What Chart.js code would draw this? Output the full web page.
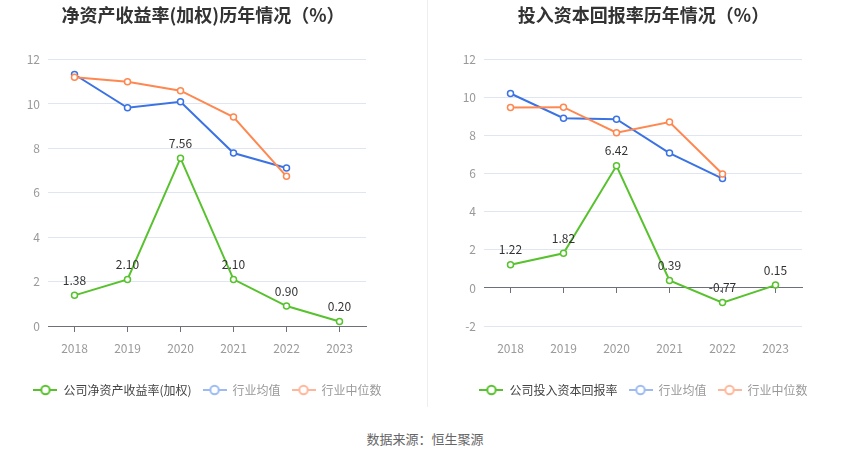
<!DOCTYPE html>
<html><head><meta charset="utf-8">
<script src="https://cdn.jsdelivr.net/npm/chart.js@4.4.1/dist/chart.umd.min.js"></script>
<style>
html,body{margin:0;padding:0;background:#fff;}
#wrap{position:relative;width:850px;height:459px;overflow:hidden;font-family:"Noto Sans CJK SC",sans-serif;}
.box{position:absolute;top:0;width:425px;height:410px;}
#divider{position:absolute;left:427px;top:0;width:1px;height:407px;background:#eeeeee;}
#source{position:absolute;left:0;width:850px;top:429px;text-align:center;font-size:13px;color:#666;}
</style></head>
<body>
<div id="wrap">
  <div class="box" style="left:0"><canvas id="c1" width="425" height="410"></canvas></div>
  <div class="box" style="left:425px"><canvas id="c2" width="425" height="410"></canvas></div>
  <div id="divider"></div>
  <div id="source">数据来源：恒生聚源</div>
</div>
<script>
const years = ['2018','2019','2020','2021','2022','2023'];

const roeTitle = '净资产收益率(加权)历年情况（%）';
const roeCompany = [1.38, 2.10, 7.56, 2.10, 0.90, 0.20];
const roeAvg = [11.33, 9.83, 10.10, 7.79, 7.12, null];
const roeMedian = [11.20, 11.00, 10.60, 9.41, 6.74, null];
const roeLabels = ['公司净资产收益率(加权)', '行业均值', '行业中位数'];
const roeTicks = {min: 0, max: 12, step: 2};

const roicTitle = '投入资本回报率历年情况（%）';
const roicCompany = [1.22, 1.82, 6.42, 0.39, -0.77, 0.15];
const roicAvg = [10.22, 8.92, 8.87, 7.09, 5.75, null];
const roicMedian = [9.48, 9.50, 8.16, 8.72, 5.99, null];
const roicLabels = ['公司投入资本回报率', '行业均值', '行业中位数'];
const roicTicks = {min: -2, max: 12, step: 2};

const GREEN = '#58c22e', BLUE = '#3b73e4', ORANGE = '#ff8750';
const LEG_COLORS = ['#58c22e', '#9dbbf2', '#ffb79b'];
const LEG_TEXT = ['#444', '#999', '#999'];
const FONT = '"Noto Sans CJK SC", "Noto Sans", sans-serif';

function icon(color){
  const c = document.createElement('canvas');
  c.width = 24; c.height = 12;
  const x = c.getContext('2d');
  x.strokeStyle = color; x.lineWidth = 2;
  x.beginPath(); x.moveTo(0,6); x.lineTo(24,6); x.stroke();
  x.beginPath(); x.arc(12,6,4.2,0,Math.PI*2); x.fillStyle='#fff'; x.fill(); x.stroke();
  return c;
}

const valueLabels = {
  id: 'valueLabels',
  afterDatasetsDraw(chart){
    const ctx = chart.ctx;
    const meta = chart.getDatasetMeta(0);
    const data = chart.data.datasets[0].data;
    ctx.save();
    ctx.font = '12px ' + FONT;
    ctx.fillStyle = '#333';
    ctx.textAlign = 'center';
    ctx.textBaseline = 'middle';
    meta.data.forEach((pt, i) => {
      if (data[i] == null) return;
      ctx.fillText(data[i].toFixed(2), pt.x, pt.y - 15);
    });
    ctx.restore();
  }
};

const shiftBlocks = {
  id: 'shiftBlocks',
  afterLayout(chart, args, opts){
    if (chart.titleBlock) { chart.titleBlock.left += opts.titleDx; chart.titleBlock.right += opts.titleDx; }
    if (chart.legend) { chart.legend.left += opts.legendDx; chart.legend.right += opts.legendDx; }
  }
};

function ds(label, data, color){
  return {
    label, data, borderColor: color, backgroundColor: '#fff',
    borderWidth: 2, pointRadius: 3, pointBorderWidth: 1.5,
    pointBackgroundColor: '#fff', pointBorderColor: color,
    tension: 0, spanGaps: false
  };
}

function make(id, title, labels, company, avg, median, t, yWidth, rightWidth, titleDx, legendDx){
  new Chart(document.getElementById(id), {
    type: 'line',
    data: {
      labels: years,
      datasets: [
        Object.assign(ds(labels[0], company, GREEN), {order: 0}),
        Object.assign(ds(labels[1], avg, BLUE), {order: 2}),
        Object.assign(ds(labels[2], median, ORANGE), {order: 1})
      ]
    },
    options: {
      responsive: false,
      animation: false,
      devicePixelRatio: 1,
      layout: {padding: {left: 0, right: 0, top: 0, bottom: 4}},
      plugins: {
        tooltip: {enabled: false},
        shiftBlocks: {titleDx, legendDx},
        title: {
          display: true, text: title, fullSize: false,
          color: '#333', font: {size: 18, weight: 'bold', family: FONT},
          padding: {top: 4, bottom: 34}
        },
        legend: {
          display: true, position: 'bottom', fullSize: true,
          labels: {
            usePointStyle: true, pointStyleWidth: 24, boxHeight: 12,
            padding: 11,
            font: {size: 12, family: FONT},
            generateLabels(chart){
              return chart.data.datasets.map((d, i) => ({
                text: d.label, datasetIndex: i, hidden: false,
                fillStyle: LEG_COLORS[i], strokeStyle: LEG_COLORS[i], lineWidth: 0,
                pointStyle: icon(LEG_COLORS[i]), fontColor: LEG_TEXT[i]
              }));
            }
          }
        }
      },
      scales: {
        x: {
          type: 'category', offset: true,
          grid: {display: false},
          border: {display: false},
          ticks: {color: '#999', padding: 7, font: {size: 12, family: FONT}},
          afterFit(s){ s.height = 47; }
        },
        x2: {
          type: 'category', axis: 'x', position: {y: 0}, offset: true,
          grid: {drawOnChartArea: false, drawTicks: true, tickLength: 5, offset: false, color: '#6e7079', lineWidth: 1},
          border: {display: true, color: '#6e7079', width: 1},
          ticks: {display: false}
        },
        y: {
          min: t.min, max: t.max,
          ticks: {stepSize: t.step, color: '#999', padding: 8, font: {size: 12, family: FONT}},
          grid: {drawTicks: false, color: c => c.tick && c.tick.value === 0 ? 'rgba(0,0,0,0)' : '#e0e6f1'},
          border: {display: false},
          afterFit(s){ s.width = yWidth; }
        },
        yR: {
          type: 'linear', position: 'right', axis: 'y',
          grid: {display: false}, border: {display: false},
          ticks: {display: false},
          afterFit(s){ s.width = rightWidth; }
        }
      }
    },
    plugins: [valueLabels, shiftBlocks]
  });
}

make('c1', roeTitle, roeLabels, roeCompany, roeAvg, roeMedian, roeTicks, 48, 59, -4, -5);
make('c2', roicTitle, roicLabels, roicCompany, roicAvg, roicMedian, roicTicks, 59, 48, 0.5, 6);
</script>
</body></html>
